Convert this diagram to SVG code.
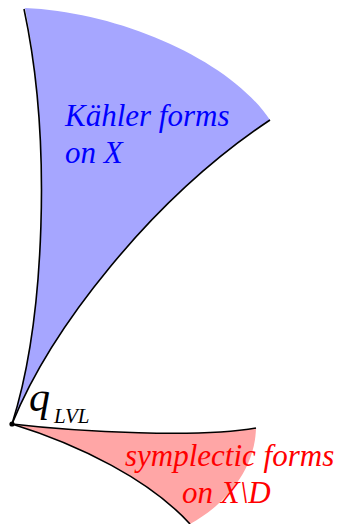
<svg xmlns="http://www.w3.org/2000/svg" width="340" height="524" viewBox="0 0 340 524">
<style>
.edge{fill:none;stroke:#000;stroke-width:1.6}
text{font-family:'Liberation Serif','Times New Roman',serif;font-style:italic}
</style>
<rect width="340" height="524" fill="#fff"/>
<g id="kahler">
<path d="M12,424 C45,320 52,140 25,8 C120,12 230,60 270,120 C150,200 50,330 12,424 Z" fill="#a6a6ff"/>
<text x="65" y="126" font-size="31" fill="#0000ff">Kähler forms</text>
<text x="65" y="163" font-size="31" fill="#0000ff">on X</text>
</g>
<g id="symplectic">
<path d="M12,424 C80,432 200,438 256,428 C255,470 225,505 190,524 C150,480 80,445 12,424 Z" fill="#ffa6a6"/>
<text x="125" y="466" font-size="31" fill="#ff0000">symplectic forms</text>
<text x="182" y="503" font-size="31" fill="#ff0000">on X\D</text>
</g>
<g id="connectors">
<path class="edge" d="M12,424 C45,320 52,140 24,9"/>
<path class="edge" d="M12,424 C50,330 150,200 270,120"/>
<path class="edge" d="M12,424 C80,432 200,438 256,428"/>
<path class="edge" d="M12,424 C80,445 150,480 190,524"/>
</g>
<g id="q">
<circle cx="12" cy="424" r="2.6" fill="#000"/>
<text x="29" y="411" font-size="42" fill="#000">q</text>
<text x="54" y="423" font-size="21" fill="#000">LVL</text>
</g>
</svg>
